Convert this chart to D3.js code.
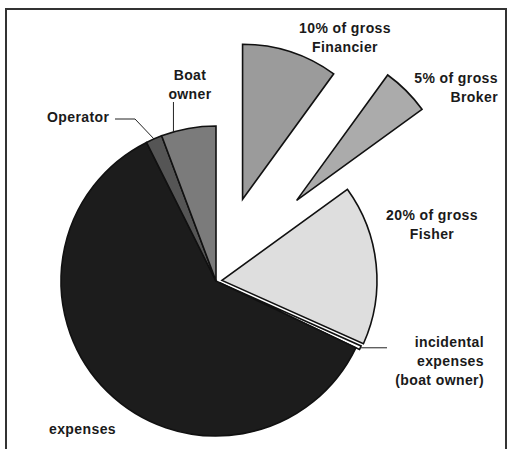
<!DOCTYPE html>
<html>
<head>
<meta charset="utf-8">
<script src="https://cdn.jsdelivr.net/npm/d3@7"></script>
<style>
	body { margin: 0; background: #fff; }
	svg text { font-family: "Liberation Sans", Arial, sans-serif; font-weight: bold; font-size: 14px; letter-spacing: 0.4px; fill: #1a1a1a; }
</style>
</head>
<body>
<div id="viz"></div>
<script>
// shares of gross, clockwise from 12 o'clock
const slices = ['Financier', 'Broker', 'Fisher', 'incidental', 'expenses', 'Operator', 'Boat owner'];
const shares = [10, 5, 16.7, 0.4, 60.5, 1.7, 5.7];
const labelLines = [
	['10% of gross', 'Financier'],
	['5% of gross', 'Broker'],
	['20% of gross', 'Fisher'],
	['incidental', 'expenses', '(boat owner)'],
	['expenses'],
	['Operator'],
	['Boat', 'owner']
];

let width = 508,
	height = 449,
	cx = 216,
	cy = 281,
	radius = 155;

const fills = ['#9b9b9b', '#ababab', '#dedede', '#ffffff', '#1c1c1c', '#555555', '#7b7b7b'];
const explode = [86, 114, 6, 4, 0, 0, 0];

// where each label block sits, and how it is anchored
const labelPos = [
	{ x: 345, y: 33, anchor: 'middle' },
	{ x: 498, y: 83, anchor: 'end' },
	{ x: 432, y: 220, anchor: 'middle' },
	{ x: 484, y: 347, anchor: 'end' },
	{ x: 49, y: 434, anchor: 'start' },
	{ x: 47, y: 122, anchor: 'start' },
	{ x: 190, y: 80, anchor: 'middle' }
];

let svg = d3.select('#viz').append('svg')
	.attr('width', width)
	.attr('height', height);

// frame
svg.append('path')
	.attr('d', `M6,${height}V9H${width - 2}V${height}`)
	.attr('fill', 'none')
	.attr('stroke', '#333')
	.attr('stroke-width', 2);

let pie = d3.pie()
	.sort(null)
	.value(d => d.share);

let data = slices.map((name, i) => ({ name, share: shares[i], i }));
let arcs = pie(data);

let arc = d3.arc()
	.innerRadius(0)
	.outerRadius(radius);

let g = svg.append('g')
	.attr('transform', `translate(${cx},${cy})`);

g.selectAll('path')
	.data(arcs)
	.join('path')
	.attr('transform', d => {
		let a = (d.startAngle + d.endAngle) / 2;
		let off = explode[d.data.i];
		return `translate(${Math.sin(a) * off},${-Math.cos(a) * off})`;
	})
	.attr('d', arc)
	.attr('fill', d => fills[d.data.i])
	.attr('stroke', '#111')
	.attr('stroke-width', 1.6)
	.attr('stroke-linejoin', 'miter');

// leader lines
let pt = (angle, r) => [cx + Math.sin(angle) * r, cy - Math.cos(angle) * r];

let opArc = arcs[5];
let opEdge = pt((opArc.startAngle + opArc.endAngle) / 2, radius);
svg.append('polyline')
	.attr('points', [[115, 119], [135, 119], opEdge].map(p => p.join(',')).join(' '))
	.attr('fill', 'none')
	.attr('stroke', '#222')
	.attr('stroke-width', 1);

let boArc = arcs[6];
let boEdge = pt(boArc.startAngle + 0.08, radius);
svg.append('line')
	.attr('x1', boEdge[0]).attr('y1', 102)
	.attr('x2', boEdge[0]).attr('y2', boEdge[1])
	.attr('stroke', '#222')
	.attr('stroke-width', 1);

let inArc = arcs[3];
let inEdge = pt((inArc.startAngle + inArc.endAngle) / 2, radius + 4);
svg.append('line')
	.attr('x1', inEdge[0]).attr('y1', inEdge[1])
	.attr('x2', 387).attr('y2', inEdge[1])
	.attr('stroke', '#222')
	.attr('stroke-width', 1);

// labels
labelLines.forEach((lines, i) => {
	let p = labelPos[i];
	let t = svg.append('text')
		.attr('x', p.x)
		.attr('y', p.y)
		.attr('text-anchor', p.anchor);
	lines.forEach((line, j) => {
		t.append('tspan')
			.attr('x', p.x)
			.attr('dy', j === 0 ? 0 : 19)
			.text(line);
	});
});
</script>
</body>
</html>
